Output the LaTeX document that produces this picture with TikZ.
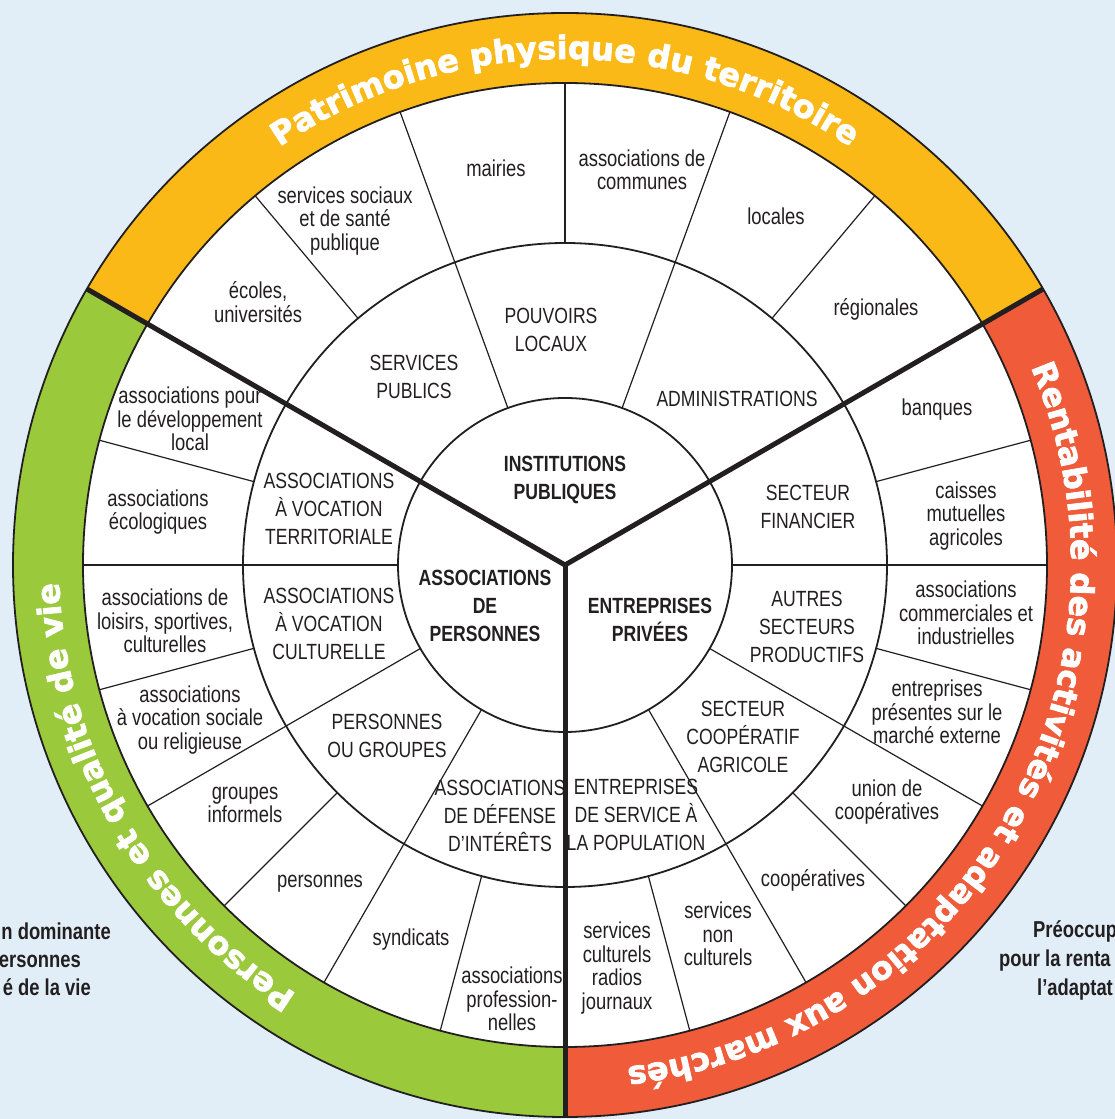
\documentclass[tikz,border=0pt]{standalone}
\usepackage{fontspec}
\setmainfont{Liberation Sans}
\newfontfamily\labelfont[FakeStretch=0.8]{Liberation Sans}
\newfontfamily\ringfontfam[FakeBold=2.2]{DejaVu Sans}
\usetikzlibrary{decorations.text}
\definecolor{bgblue}{RGB}{225,238,248}
\definecolor{ringorange}{RGB}{251,185,24}
\definecolor{ringgreen}{RGB}{154,202,60}
\definecolor{ringred}{RGB}{240,92,58}
\definecolor{ink}{RGB}{35,31,32}
\begin{document}
\begin{tikzpicture}[x=1pt,y=1pt,
  lbl/.style={font=\labelfont\fontsize{23}{23.5}\selectfont, align=center, text=ink, inner sep=0pt},
  caplbl/.style={font=\labelfont\fontsize{22}{28}\selectfont, align=center, text=ink, inner sep=0pt},
  ctrlbl/.style={font=\labelfont\bfseries\fontsize{22}{28}\selectfont, align=center, text=ink, inner sep=0pt},
  sidelbl/.style={font=\labelfont\bfseries\fontsize{23}{28}\selectfont, text=ink, inner sep=0pt},
  circ/.style={draw=ink, line width=1.8pt},
  thinline/.style={draw=ink, line width=1.2pt},
  boldline/.style={draw=ink, line width=5pt},
  ringtext/.style={decorate, decoration={text along path, text align=center, text color=white,
     text={|\ringfontfam\bfseries\fontsize{32}{32}\selectfont|#1}}}
]
\useasboundingbox (0,0) rectangle (1115,1119);
\fill[bgblue] (0,0) rectangle (1115,1119);
\begin{scope}[shift={(0,1119)}]
\coordinate (C) at (565,-565);
\def\Ro{552}\def\Rw{482}\def\Rm{322}\def\Ri{167}
\begin{scope}[shift={(565,-565)}]
  % coloured ring
  \fill[ringorange] (30:\Ro) arc[start angle=30,end angle=150,radius=\Ro] -- (150:\Rw) arc[start angle=150,end angle=30,radius=\Rw] -- cycle;
  \fill[ringgreen] (150:\Ro) arc[start angle=150,end angle=270,radius=\Ro] -- (270:\Rw) arc[start angle=270,end angle=150,radius=\Rw] -- cycle;
  \fill[ringred] (270:\Ro) arc[start angle=270,end angle=390,radius=\Ro] -- (390:\Rw) arc[start angle=390,end angle=270,radius=\Rw] -- cycle;
  \fill[white] (0,0) circle[radius=\Rw];
  % circles
  \draw[circ] (0,0) circle[radius=\Ro];
  \draw[circ] (0,0) circle[radius=\Rw];
  \draw[circ] (0,0) circle[radius=\Rm];
  \draw[circ] (0,0) circle[radius=\Ri];
  % sector dividers
  \foreach \a in {0,180} \draw[circ] (\a:\Ri) -- (\a:\Rw);
  \foreach \a in {70,110,210,240,300,330} \draw[thinline] (\a:\Ri) -- (\a:\Rw);
  \foreach \a in {50,90,130,15,-15,-45,-75,165,195,225,255} \draw[thinline] (\a:\Rm) -- (\a:\Rw);
  % bold dividers
  \draw[boldline, line join=miter] (30:\Ro) -- (0,0) -- (150:\Ro);
  \draw[boldline] (0,0) -- (270:\Ro);
  % ring texts
  \path[ringtext={Patrimoine physique du territoire}] (150:506) arc[start angle=150,end angle=30,radius=506];
  \path[ringtext={Rentabilité des activités et adaptation aux marchés}] (30:506) arc[start angle=30,end angle=-90,radius=506];
  \path[ringtext={Personnes et qualité de vie}] (270:506) arc[start angle=270,end angle=150,radius=506];
\end{scope}

% centre
\node[ctrlbl] (instit) at (565,-480) {INSTITUTIONS\\PUBLIQUES};
\node[ctrlbl] (asspers) at (485,-606) {ASSOCIATIONS\\DE\\PERSONNES};
\node[ctrlbl] (entpriv) at (650,-620) {ENTREPRISES\\PRIVÉES};

% top group
\node[caplbl] (servpub) at (414,-377) {SERVICES\\PUBLICS};
\node[caplbl] (pouvoirs) at (551,-330) {POUVOIRS\\LOCAUX};
\node[caplbl] (admin) at (737,-399) {ADMINISTRATIONS};
\node[lbl] (ecoles) at (258,-302) {écoles,\\universités};
\node[lbl] (servsoc) at (345,-221) {services sociaux\\et de santé\\publique};
\node[lbl] (mairies) at (496,-168) {mairies};
\node[lbl] (asscommunes) at (642,-170) {associations de\\communes};
\node[lbl] (locales) at (776,-216) {locales};
\node[lbl] (regionales) at (876,-309) {régionales};

% left group
\node[caplbl] (terr) at (329,-509) {ASSOCIATIONS\\À VOCATION\\TERRITORIALE};
\node[caplbl] (cult) at (329,-624) {ASSOCIATIONS\\À VOCATION\\CULTURELLE};
\node[caplbl] (persgr) at (387,-736) {PERSONNES\\OU GROUPES};
\node[caplbl] (defense) at (500,-816) {ASSOCIATIONS\\DE DÉFENSE\\D’INTÉRÊTS};
\node[lbl] (devloc) at (190,-419) {associations pour\\le développement\\local};
\node[lbl] (eco) at (158,-512) {associations\\écologiques};
\node[lbl] (loisirs) at (165,-621) {associations de\\loisirs, sportives,\\culturelles};
\node[lbl] (sociale) at (190,-720) {associations\\à vocation sociale\\ou religieuse};
\node[lbl] (groupes) at (245,-805) {groupes\\informels};
\node[lbl] (personnes) at (320,-884) {personnes};
\node[lbl] (syndicats) at (411,-940) {syndicats};
\node[lbl] (assprof) at (512,-999) {associations\\profession-\\nelles};

% right group
\node[caplbl] (fin) at (808,-507) {SECTEUR\\FINANCIER};
\node[caplbl] (autres) at (807,-627) {AUTRES\\SECTEURS\\PRODUCTIFS};
\node[caplbl] (coopagr) at (743,-737) {SECTEUR\\COOPÉRATIF\\AGRICOLE};
\node[caplbl] (entserv) at (636,-815) {ENTREPRISES\\DE SERVICE À\\LA POPULATION};
\node[lbl] (banques) at (937,-410) {banques};
\node[lbl] (caisses) at (966,-516) {caisses\\mutuelles\\agricoles};
\node[lbl] (asscomm) at (966,-613) {associations\\commerciales et\\industrielles};
\node[lbl] (entpres) at (937,-712) {entreprises\\présentes sur le\\marché externe};
\node[lbl] (union) at (887,-802) {union de\\coopératives};
\node[lbl] (coopes) at (813,-880) {coopératives};
\node[lbl] (servnon) at (718,-934) {services\\non\\culturels};
\node[lbl] (servcult) at (617,-968) {services\\culturels\\radios\\journaux};

% side texts (cut by the page edge)
\node[sidelbl, anchor=base east] (sideLa) at (111,-940) {n dominante};
\node[sidelbl, anchor=base east] (sideLb) at (81,-968) {ersonnes};
\node[sidelbl, anchor=base east] (sideLc) at (91,-996) {é de la vie};
\node[sidelbl, anchor=base west] (sideRa) at (1033,-938) {Préoccup};
\node[sidelbl, anchor=base west] (sideRb) at (999,-967) {pour la renta};
\node[sidelbl, anchor=base west] (sideRc) at (1037,-996) {l’adaptat};
\end{scope}
\end{tikzpicture}
\end{document}
